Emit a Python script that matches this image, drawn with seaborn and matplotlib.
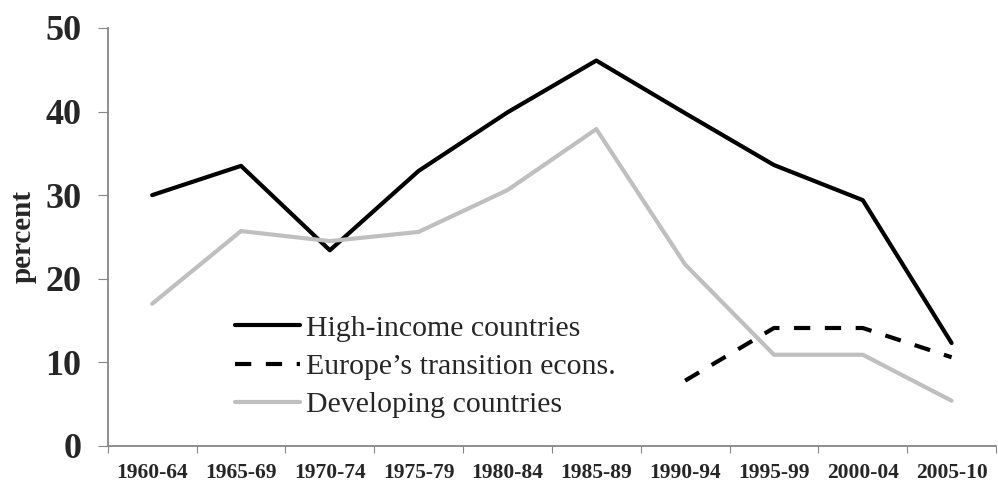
import matplotlib.pyplot as plt
import seaborn as sns
import numpy as np
import pandas as pd

periods = ["1960-64", "1965-69", "1970-74", "1975-79", "1980-84",
           "1985-89", "1990-94", "1995-99", "2000-04", "2005-10"]
high_income = [30.0, 33.5, 23.4, 32.9, 39.9, 46.1, 39.8, 33.6, 29.4, 12.3]
transition = [np.nan, np.nan, np.nan, np.nan, np.nan, np.nan, 7.8, 14.1, 14.1, 10.6]
developing = [17.0, 25.7, 24.5, 25.6, 30.6, 37.9, 21.7, 10.9, 10.9, 5.4]

sns.set_style("white")
plt.rcParams['font.family'] = ['Liberation Serif', 'DejaVu Serif']

df = pd.DataFrame({"pos": np.arange(len(periods)), "period": periods,
                   "High-income countries": high_income,
                   "Europe\u2019s transition econs.": transition,
                   "Developing countries": developing})

fig, ax = plt.subplots(figsize=(9.98, 4.82), dpi=100)
fig.subplots_adjust(left=0.108, right=0.998, top=0.942, bottom=0.075)

sns.lineplot(data=df, x="pos", y="High-income countries", ax=ax, color="black",
             lw=3, label="High-income countries")
sns.lineplot(data=df, x="pos", y="Europe\u2019s transition econs.", ax=ax, color="black",
             lw=3, label="Europe\u2019s transition econs.")
ax.lines[-1].set_dashes([3.9, 3.5])
sns.lineplot(data=df, x="pos", y="Developing countries", ax=ax, color="#bfbfbf",
             lw=3, label="Developing countries")

ax.set_xlim(-0.5, len(periods) - 0.5)
ax.set_ylim(0, 50)
ax.set_yticks([0, 10, 20, 30, 40, 50])
ax.tick_params(axis="y", labelsize=26, length=7, pad=12, color="#868686",
               direction="out", left=True)
for t in ax.get_yticklabels():
    t.set_fontweight("bold")

# ticks between categories, labels at centers
ax.set_xticks(np.arange(-0.5, len(periods), 1.0))
ax.set_xticklabels([])
ax.tick_params(axis="x", which="major", length=5, color="#868686", direction="out", bottom=True)
ax.set_xticks(np.arange(len(periods)), minor=True)
ax.set_xticklabels(periods, minor=True, fontsize=15.5, fontweight="bold")
ax.tick_params(axis="x", which="minor", length=0, pad=12)

ax.set_xlabel("")
ax.set_ylabel("percent", fontsize=21, fontweight="bold", labelpad=6)

sns.despine(ax=ax)
for s in ["left", "bottom"]:
    ax.spines[s].set_color("#868686")
    ax.spines[s].set_linewidth(1.3)

leg = ax.legend(loc="lower left", bbox_to_anchor=(0.143, 0.066), frameon=False, fontsize=21.5,
                handlelength=2.2, handletextpad=0.2, labelspacing=0.38, borderaxespad=0,
                borderpad=0)

fig.savefig("out.png", dpi=100)
